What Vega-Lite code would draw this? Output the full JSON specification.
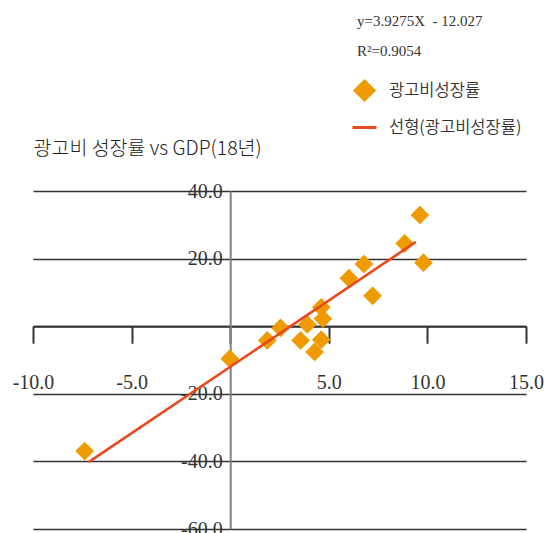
{
  "$schema": "https://vega.github.io/schema/vega-lite/v6.json",
  "autosize": {"type": "none"},
  "width": 493,
  "height": 338,
  "padding": {"left": 33, "top": 191, "right": 23, "bottom": 4},
  "background": "white",
  "datasets": {
    "growth": [
      {"gdp": -7.38, "ad": -36.96, "series": "광고비성장률"},
      {"gdp": -0.02, "ad": -9.6, "series": "광고비성장률"},
      {"gdp": 1.88, "ad": -4.2, "series": "광고비성장률"},
      {"gdp": 2.55, "ad": -0.5, "series": "광고비성장률"},
      {"gdp": 3.57, "ad": -4.2, "series": "광고비성장률"},
      {"gdp": 3.91, "ad": 0.5, "series": "광고비성장률"},
      {"gdp": 4.28, "ad": -7.6, "series": "광고비성장률"},
      {"gdp": 4.62, "ad": -4.0, "series": "광고비성장률"},
      {"gdp": 4.62, "ad": 5.6, "series": "광고비성장률"},
      {"gdp": 4.7, "ad": 2.2, "series": "광고비성장률"},
      {"gdp": 6.02, "ad": 14.2, "series": "광고비성장률"},
      {"gdp": 6.78, "ad": 18.4, "series": "광고비성장률"},
      {"gdp": 7.22, "ad": 9.0, "series": "광고비성장률"},
      {"gdp": 8.85, "ad": 24.5, "series": "광고비성장률"},
      {"gdp": 9.62, "ad": 32.9, "series": "광고비성장률"},
      {"gdp": 9.8, "ad": 18.8, "series": "광고비성장률"}
    ],
    "trend": [
      {"gdp": -7.18, "ad": -40.226, "series": "선형(광고비성장률)"},
      {"gdp": 9.41, "ad": 24.931, "series": "선형(광고비성장률)"}
    ]
  },
  "encoding": {
    "x": {
      "field": "gdp",
      "type": "quantitative",
      "scale": {"domain": [-10, 15], "nice": false, "zero": false},
      "axis": {
        "title": null,
        "orient": "bottom",
        "offset": -202.8,
        "values": [-10, -5, 0, 5, 10, 15],
        "grid": false,
        "domainColor": "#333333",
        "domainWidth": 2,
        "tickColor": "#333333",
        "tickWidth": 2,
        "tickSize": 17,
        "labelPadding": 29,
        "labelFont": "Liberation Serif",
        "labelFontSize": 20,
        "labelColor": "#333333",
        "labelFlush": false,
        "labelOverlap": false,
        "labelExpr": "datum.value === 0 ? '' : replace(format(datum.value, '.1f'), '−', '-')"
      }
    },
    "y": {
      "field": "ad",
      "type": "quantitative",
      "scale": {"domain": [-60, 40], "nice": false, "zero": false},
      "axis": {
        "title": "광고비 성장률 vs GDP(18년)",
        "titleAngle": 0,
        "titleAlign": "left",
        "titleBaseline": "middle",
        "titleX": -197.2,
        "titleY": -43,
        "titleFont": "Noto Sans CJK KR",
        "titleFontSize": 19.5,
        "titleFontWeight": 300,
        "titleColor": "#222222",
        "orient": "left",
        "offset": -197.2,
        "values": [-60, -40, -20, 0, 20, 40],
        "grid": true,
        "gridColor": "#333333",
        "gridWidth": 1.3,
        "domainColor": "#808080",
        "domainWidth": 2,
        "ticks": false,
        "labelPadding": 8,
        "labelFont": "Liberation Serif",
        "labelFontSize": 20,
        "labelColor": "#333333",
        "labelFlush": false,
        "labelOverlap": false,
        "labelBaseline": "middle",
        "labelExpr": "datum.value === 0 ? '' : replace(format(datum.value, '.1f'), '−', '-')"
      }
    },
    "color": {
      "field": "series",
      "type": "nominal",
      "scale": {
        "domain": ["광고비성장률", "선형(광고비성장률)"],
        "range": ["#EE9A00", "#E8491D"]
      },
      "legend": {
        "title": ["y=3.9275X\u00a0 - 12.027", "R²=0.9054"],
        "orient": "none",
        "legendX": 318,
        "legendY": -177,
        "titleFont": "Liberation Serif",
        "titleFontSize": 15,
        "titleFontWeight": "normal",
        "titleColor": "#333333",
        "titleLineHeight": 30,
        "titlePadding": 18,
        "labelFont": "Noto Sans CJK KR",
        "labelFontSize": 16.5,
        "labelFontWeight": 350,
        "labelColor": "#333333",
        "labelOffset": 11,
        "rowPadding": 8,
        "symbolSize": 576,
        "encode": {
          "title": {"update": {"dx": {"value": 6}}},
          "symbols": {
            "update": {
              "shape": {"signal": "datum.value === '광고비성장률' ? 'diamond' : 'stroke'"},
              "size": {"signal": "datum.value === '광고비성장률' ? 361 : 576"},
              "fill": {"signal": "datum.value === '광고비성장률' ? '#EE9A00' : 'transparent'"},
              "stroke": {"signal": "datum.value === '광고비성장률' ? 'transparent' : '#E8491D'"},
              "strokeWidth": {"value": 3},
              "opacity": {"value": 1}
            }
          }
        }
      }
    }
  },
  "layer": [
    {
      "data": {"name": "growth"},
      "mark": {"type": "point", "shape": "diamond", "filled": true, "size": 350, "opacity": 1}
    },
    {
      "data": {"name": "trend"},
      "mark": {"type": "line", "strokeWidth": 2.6}
    }
  ],
  "config": {
    "view": {"stroke": null}
  }
}
